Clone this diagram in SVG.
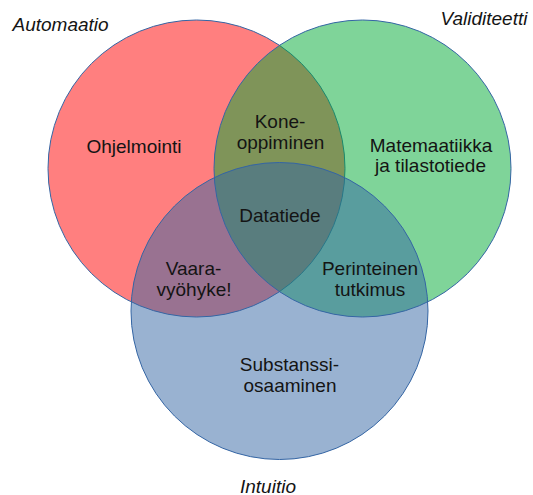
<svg xmlns="http://www.w3.org/2000/svg" width="533" height="495" viewBox="0 0 533 495">
  <style>
    .set { stroke: #3465a4; stroke-width: 1; fill-opacity: 0.5; }
    .lbl { font-family: "Liberation Sans", Arial, sans-serif; font-size: 19px; fill: #141414; text-anchor: middle; }
    .title { font-family: "Liberation Sans", Arial, sans-serif; font-size: 19px; font-style: italic; fill: #141414; }
  </style>
  <rect width="533" height="495" fill="#ffffff"/>

  <!-- three overlapping sets -->
  <g id="automaatio">
    <circle class="set" cx="196.5" cy="168.5" r="148.5" fill="#ff0000"/>
  </g>
  <g id="validiteetti">
    <circle class="set" cx="362.5" cy="168.5" r="148.5" fill="#00a933"/>
  </g>
  <g id="intuitio">
    <circle class="set" cx="279.5" cy="311" r="148.5" fill="#3465a4"/>
  </g>

  <!-- set titles -->
  <text class="title" x="12.5" y="31">Automaatio</text>
  <text class="title" x="440.5" y="25">Validiteetti</text>
  <text class="title" x="240" y="492.5">Intuitio</text>

  <!-- region labels -->
  <g id="ohjelmointi"><text class="lbl" x="134" y="152.5">Ohjelmointi</text></g>
  <g id="koneoppiminen">
    <text class="lbl" x="280" y="127.7">Kone-</text>
    <text class="lbl" x="280.5" y="149.3">oppiminen</text>
  </g>
  <g id="matematiikka">
    <text class="lbl" x="431" y="151.7">Matemaatiikka</text>
    <text class="lbl" x="430.5" y="172.3">ja tilastotiede</text>
  </g>
  <g id="datatiede"><text class="lbl" x="280" y="221.7">Datatiede</text></g>
  <g id="vaaravyohyke">
    <text class="lbl" x="193.5" y="275">Vaara-</text>
    <text class="lbl" x="194" y="295.7">vyöhyke!</text>
  </g>
  <g id="perinteinen">
    <text class="lbl" x="370" y="275">Perinteinen</text>
    <text class="lbl" x="370" y="295.7">tutkimus</text>
  </g>
  <g id="substanssi">
    <text class="lbl" x="289.5" y="370.7">Substanssi-</text>
    <text class="lbl" x="290" y="391.7">osaaminen</text>
  </g>

  <g id="connectors"/>
</svg>
